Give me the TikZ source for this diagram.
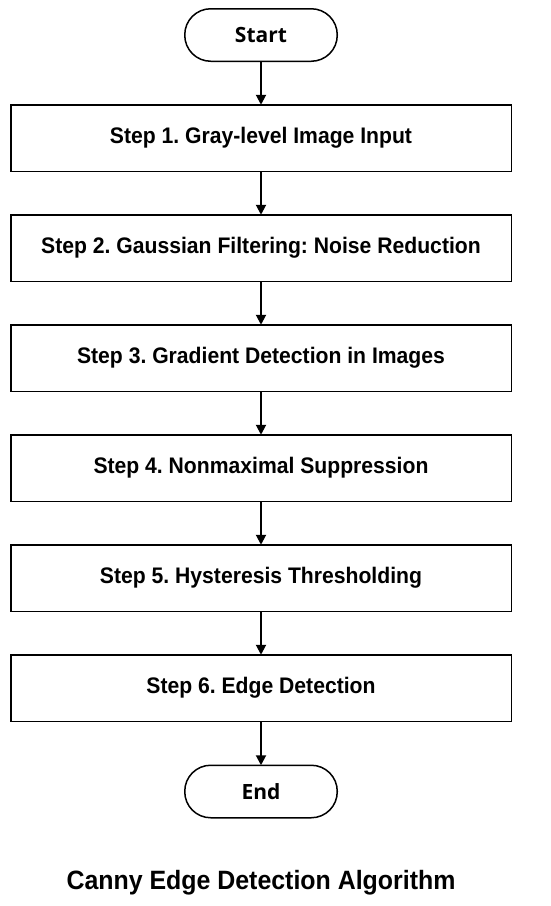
\documentclass[tikz,border=0pt]{standalone}
\usepackage{fontspec}
\setmainfont{Liberation Sans}[FakeStretch=0.94]
\newfontfamily\termfont{Open Sans}
\usetikzlibrary{positioning,arrows.meta}
\frenchspacing
\tikzset{
    stepbox/.style={draw, line width=1.5pt, outer sep=0pt, minimum width=500.5pt, minimum height=66.5pt,
        font=\fontsize{22.5}{26}\selectfont\bfseries},
    termbox/.style={draw, line width=1.5pt, outer sep=0pt, rounded corners=26pt, minimum width=152.5pt,
        minimum height=52.5pt, font=\termfont\fontsize{21}{24}\selectfont\bfseries},
    flow/.style={line width=2pt, -{Triangle[length=10pt,width=10pt]}}
}
\begin{document}
\begin{tikzpicture}[x=1pt,y=-1pt,node distance=43.5pt]
            \useasboundingbox (0,0) rectangle (550,906);
            \node[termbox] (start) at (261,35) {Start};
            \node[stepbox, below=of start] (s1) {Step 1. Gray-level Image Input};
            \node[stepbox, below=of s1] (s2) {Step 2. Gaussian Filtering: Noise Reduction};
            \node[stepbox, below=of s2] (s3) {Step 3. Gradient Detection in Images};
            \node[stepbox, below=of s3] (s4) {Step 4. Nonmaximal Suppression};
            \node[stepbox, below=of s4] (s5) {Step 5. Hysteresis Thresholding};
            \node[stepbox, below=of s5] (s6) {Step 6. Edge Detection};
            \node[termbox, below=44pt of s6] (end) {End};
            \foreach \u \v in {start/s1, s1/s2, s2/s3, s3/s4, s4/s5, s5/s6, s6/end}
            \draw[flow] (\u) -- (\v);
            \node[font=\fontsize{26.5}{30}\selectfont\bfseries] (title) at (261,883) {Canny Edge Detection Algorithm};
        \end{tikzpicture}
\end{document}
